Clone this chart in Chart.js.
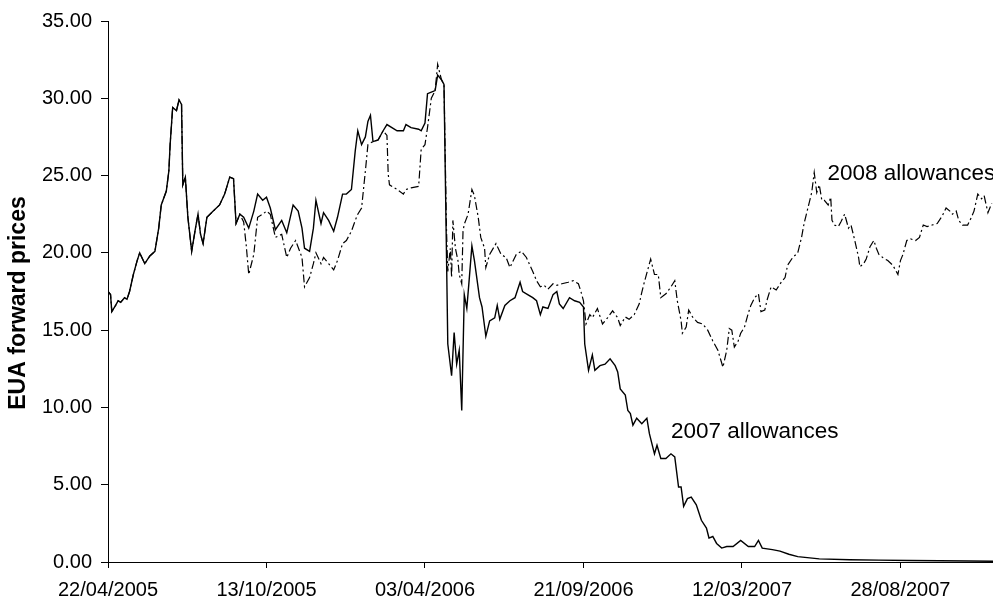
<!DOCTYPE html>
<html>
<head>
<meta charset="utf-8">
<script src="https://cdn.jsdelivr.net/npm/chart.js@4.4.1/dist/chart.umd.min.js"></script>
<style>
html, body { margin: 0; padding: 0; background: #fff; }
</style>
</head>
<body>
<canvas id="grafico" width="993" height="600"></canvas>
<script>
// DATOS (x = dias de mercado desde 22/04/2005)
const tickDays = [0, 125, 250, 375, 500, 625];
const tickLabels = ["22/04/2005", "13/10/2005", "03/04/2006", "21/09/2006", "12/03/2007", "28/08/2007"];

const days2007 = [0,2,3,6,8,10,13,15,17,20,23,25,29,33,37,40,42,46,48,49,51,54,56,58,59,61,63,66,69,71,
  73,75,78,83,88,92,96,99,101,104,107,111,115,118,122,125,128,132,137,141,146,150,153,155,159,162,164,168,170,174,
  178,181,185,188,192,195,197,200,203,205,207,209,213,217,220,228,233,235,239,245,247,250,252,255,258,260,263,265,268,271,
  273,275,277,279,281,283,285,287,289,293,295,298,301,305,307,309,313,317,321,325,327,331,335,338,341,343,347,351,354,356,
  359,364,368,372,375,376,379,382,384,388,392,396,400,402,404,408,410,412,414,417,421,425,427,431,433,436,440,444,447,450,
  452,454,457,460,464,468,472,474,477,480,484,488,493,499,505,510,513,516,524,530,537,544,561,585,608,632,656,679,698];
const price2007 = [17.5,17.3,16.2,16.6,16.9,16.8,17.1,17.0,17.5,18.6,19.5,20.0,19.3,19.8,20.1,21.6,23.1,24.0,25.3,27.0,
  29.4,29.2,29.9,29.6,24.4,24.9,22.3,20.1,21.6,22.5,21.2,20.6,22.3,22.7,23.1,23.8,24.9,24.8,21.9,22.5,
  22.3,21.6,22.7,23.8,23.4,23.6,22.9,21.5,22.1,21.3,23.1,22.7,21.6,20.3,20.1,21.6,23.4,21.9,22.6,22.1,
  21.4,22.3,23.8,23.8,24.1,26.6,27.9,27.0,27.5,28.5,28.9,27.2,27.3,27.9,28.3,27.9,27.9,28.3,28.1,28.0,
  27.9,28.4,30.3,30.4,30.5,31.5,31.2,30.9,14.1,12.05,14.85,12.8,13.7,9.8,17.3,16.4,18.4,20.45,19.5,17.1,
  16.5,14.6,15.6,15.8,16.6,15.7,16.6,16.9,17.1,18.1,17.5,17.3,17.1,16.9,16.0,16.5,16.4,17.3,17.5,16.7,
  16.4,17.1,16.9,16.8,16.5,14.1,12.4,13.4,12.4,12.7,12.8,13.15,12.7,12.3,11.2,10.8,9.8,9.6,8.85,9.3,
  8.95,9.3,8.3,7.0,7.55,6.7,6.7,7.0,6.8,4.85,4.85,3.6,4.1,4.2,3.7,2.7,2.2,1.55,1.65,1.2,
  0.9,1.0,1.0,1.4,1.0,1.0,1.4,0.9,0.8,0.7,0.5,0.35,0.2,0.15,0.12,0.1,0.08,0.06,0.05];

// hasta el dia 99 las dos series coinciden
const sharedCount = 38;
const days2008 = [101,104,107,109,111,115,118,122,125,128,132,137,141,144,148,153,155,159,162,164,
  168,170,174,178,181,185,188,192,195,197,200,203,205,209,213,217,220,221,222,228,
  233,235,239,245,247,250,252,255,258,260,263,265,267,268,270,271,272,274,276,277,
  279,280,281,284,287,289,292,294,297,298,301,306,310,314,317,322,326,330,335,338,
  341,344,347,351,354,358,363,367,371,373,375,377,380,382,386,390,394,398,402,404,
  408,411,415,419,421,423,426,428,431,434,436,440,444,447,449,452,453,456,458,461,
  465,469,473,477,481,485,488,490,492,494,497,499,502,505,507,510,513,515,518,520,
  523,527,531,534,536,540,544,547,549,552,555,557,559,561,563,565,568,570,571,573,
  576,578,581,584,586,589,592,593,596,598,601,604,606,608,611,615,619,623,625,627,
  630,633,637,640,643,646,650,654,658,661,664,666,669,671,674,678,681,683,686,689,691,694,697];
const price2008 = [21.9,22.5,22.0,20.5,18.6,19.9,22.3,22.5,22.7,22.5,21.0,21.2,19.7,20.3,20.8,19.7,17.8,18.4,19.3,20.0,
  19.3,19.7,19.3,18.9,19.5,20.6,20.8,21.4,22.1,22.5,22.9,25.3,27.0,27.2,27.3,27.9,27.6,25.1,24.4,24.1,
  23.8,24.1,24.2,24.3,26.7,27.0,28.1,30.0,30.5,32.2,31.2,30.9,21.4,18.8,20.3,18.4,22.1,20.3,19.5,18.6,
  18.0,21.4,21.85,22.5,24.1,23.7,22.3,21.0,20.3,19.05,19.9,20.6,19.9,19.7,19.05,19.9,20.1,19.7,18.8,18.2,
  17.8,17.9,17.65,18.0,17.9,18.0,18.1,18.2,18.0,17.5,16.9,15.4,16.0,15.8,16.4,15.4,15.8,16.25,15.8,15.3,
  15.85,15.7,16.0,16.7,17.45,18.1,19.0,19.6,18.6,18.6,17.1,17.35,17.8,18.2,16.9,15.6,14.8,15.2,16.3,15.85,
  15.5,15.4,15.0,14.3,13.7,12.6,13.7,15.1,15.0,13.9,14.3,14.8,15.2,16.1,16.6,17.1,17.35,16.2,16.3,17.0,
  17.8,17.6,18.1,18.4,19.2,19.7,20.0,21.0,21.9,22.9,23.9,25.2,23.9,24.4,23.4,23.4,23.1,23.6,22.1,21.8,
  21.7,22.0,22.5,21.6,21.8,20.8,19.7,19.1,19.3,19.6,20.4,20.8,20.3,19.9,19.7,19.5,19.2,18.6,19.5,19.9,
  20.8,20.9,20.8,21.0,21.8,21.7,21.8,21.9,22.4,22.9,22.7,22.5,22.7,22.1,21.8,21.8,22.3,22.7,23.8,23.5,
  23.7,22.6,23.2];

const etiquetas = [
  { text: "2007 allowances", day: 444, value: 8.4 },
  { text: "2008 allowances", day: 567.5, value: 25.1 }
];

// FUNCIONES:
function puntos(dias, precios) {
  return dias.map((d, i) => ({ x: d, y: precios[i] }));
}

const serie2008 = puntos(days2007.slice(0, sharedCount), price2007.slice(0, sharedCount))
  .concat(puntos(days2008, price2008));

const fuente = "'Liberation Sans', Arial, sans-serif";

const textoSeries = {
  id: "textoSeries",
  afterDraw(chart) {
    const ctx = chart.ctx;
    ctx.save();
    ctx.fillStyle = "#000";
    ctx.textBaseline = "middle";
    ctx.textAlign = "left";
    ctx.font = "22.5px " + fuente;
    etiquetas.forEach(e => {
      ctx.fillText(e.text, chart.scales.x.getPixelForValue(e.day), chart.scales.y.getPixelForValue(e.value));
    });
    // titulo del eje y
    ctx.translate(19, 303);
    ctx.rotate(-Math.PI / 2);
    ctx.textAlign = "center";
    ctx.font = "bold 23px " + fuente;
    ctx.fillText("EUA forward prices", 0, 0);
    ctx.restore();
  }
};

new Chart(document.getElementById("grafico"), {
  type: "line",
  data: {
    datasets: [
      {
        label: "2007 allowances",
        data: puntos(days2007, price2007),
        borderColor: "#000",
        borderWidth: 1.4,
        pointRadius: 0,
        tension: 0
      },
      {
        label: "2008 allowances",
        data: serie2008,
        borderColor: "#000",
        borderWidth: 1.2,
        borderDash: [8, 3, 2, 3],
        pointRadius: 0,
        tension: 0
      }
    ]
  },
  options: {
    responsive: false,
    animation: false,
    layout: { padding: { top: 20, right: 0, bottom: 0, left: 0 } },
    plugins: {
      legend: { display: false },
      tooltip: { enabled: false }
    },
    scales: {
      x: {
        type: "linear",
        min: 0,
        max: 698,
        afterBuildTicks: axis => { axis.ticks = tickDays.map(v => ({ value: v })); },
        afterFit: axis => { axis.height = 38; },
        ticks: {
          callback: (v, i) => tickLabels[i],
          autoSkip: false,
          maxRotation: 0,
          color: "#000",
          padding: 10,
          font: { family: fuente, size: 20 }
        },
        grid: { drawOnChartArea: false, tickLength: 6, color: "#000" },
        border: { color: "#000", width: 1 }
      },
      y: {
        min: 0,
        max: 35,
        afterFit: axis => { axis.width = 108; },
        ticks: {
          stepSize: 5,
          callback: v => v.toFixed(2),
          color: "#000",
          padding: 9,
          font: { family: fuente, size: 20 }
        },
        grid: { drawOnChartArea: false, tickLength: 7, color: "#000" },
        border: { color: "#000", width: 1 }
      }
    }
  },
  plugins: [textoSeries]
});
</script>
</body>
</html>
